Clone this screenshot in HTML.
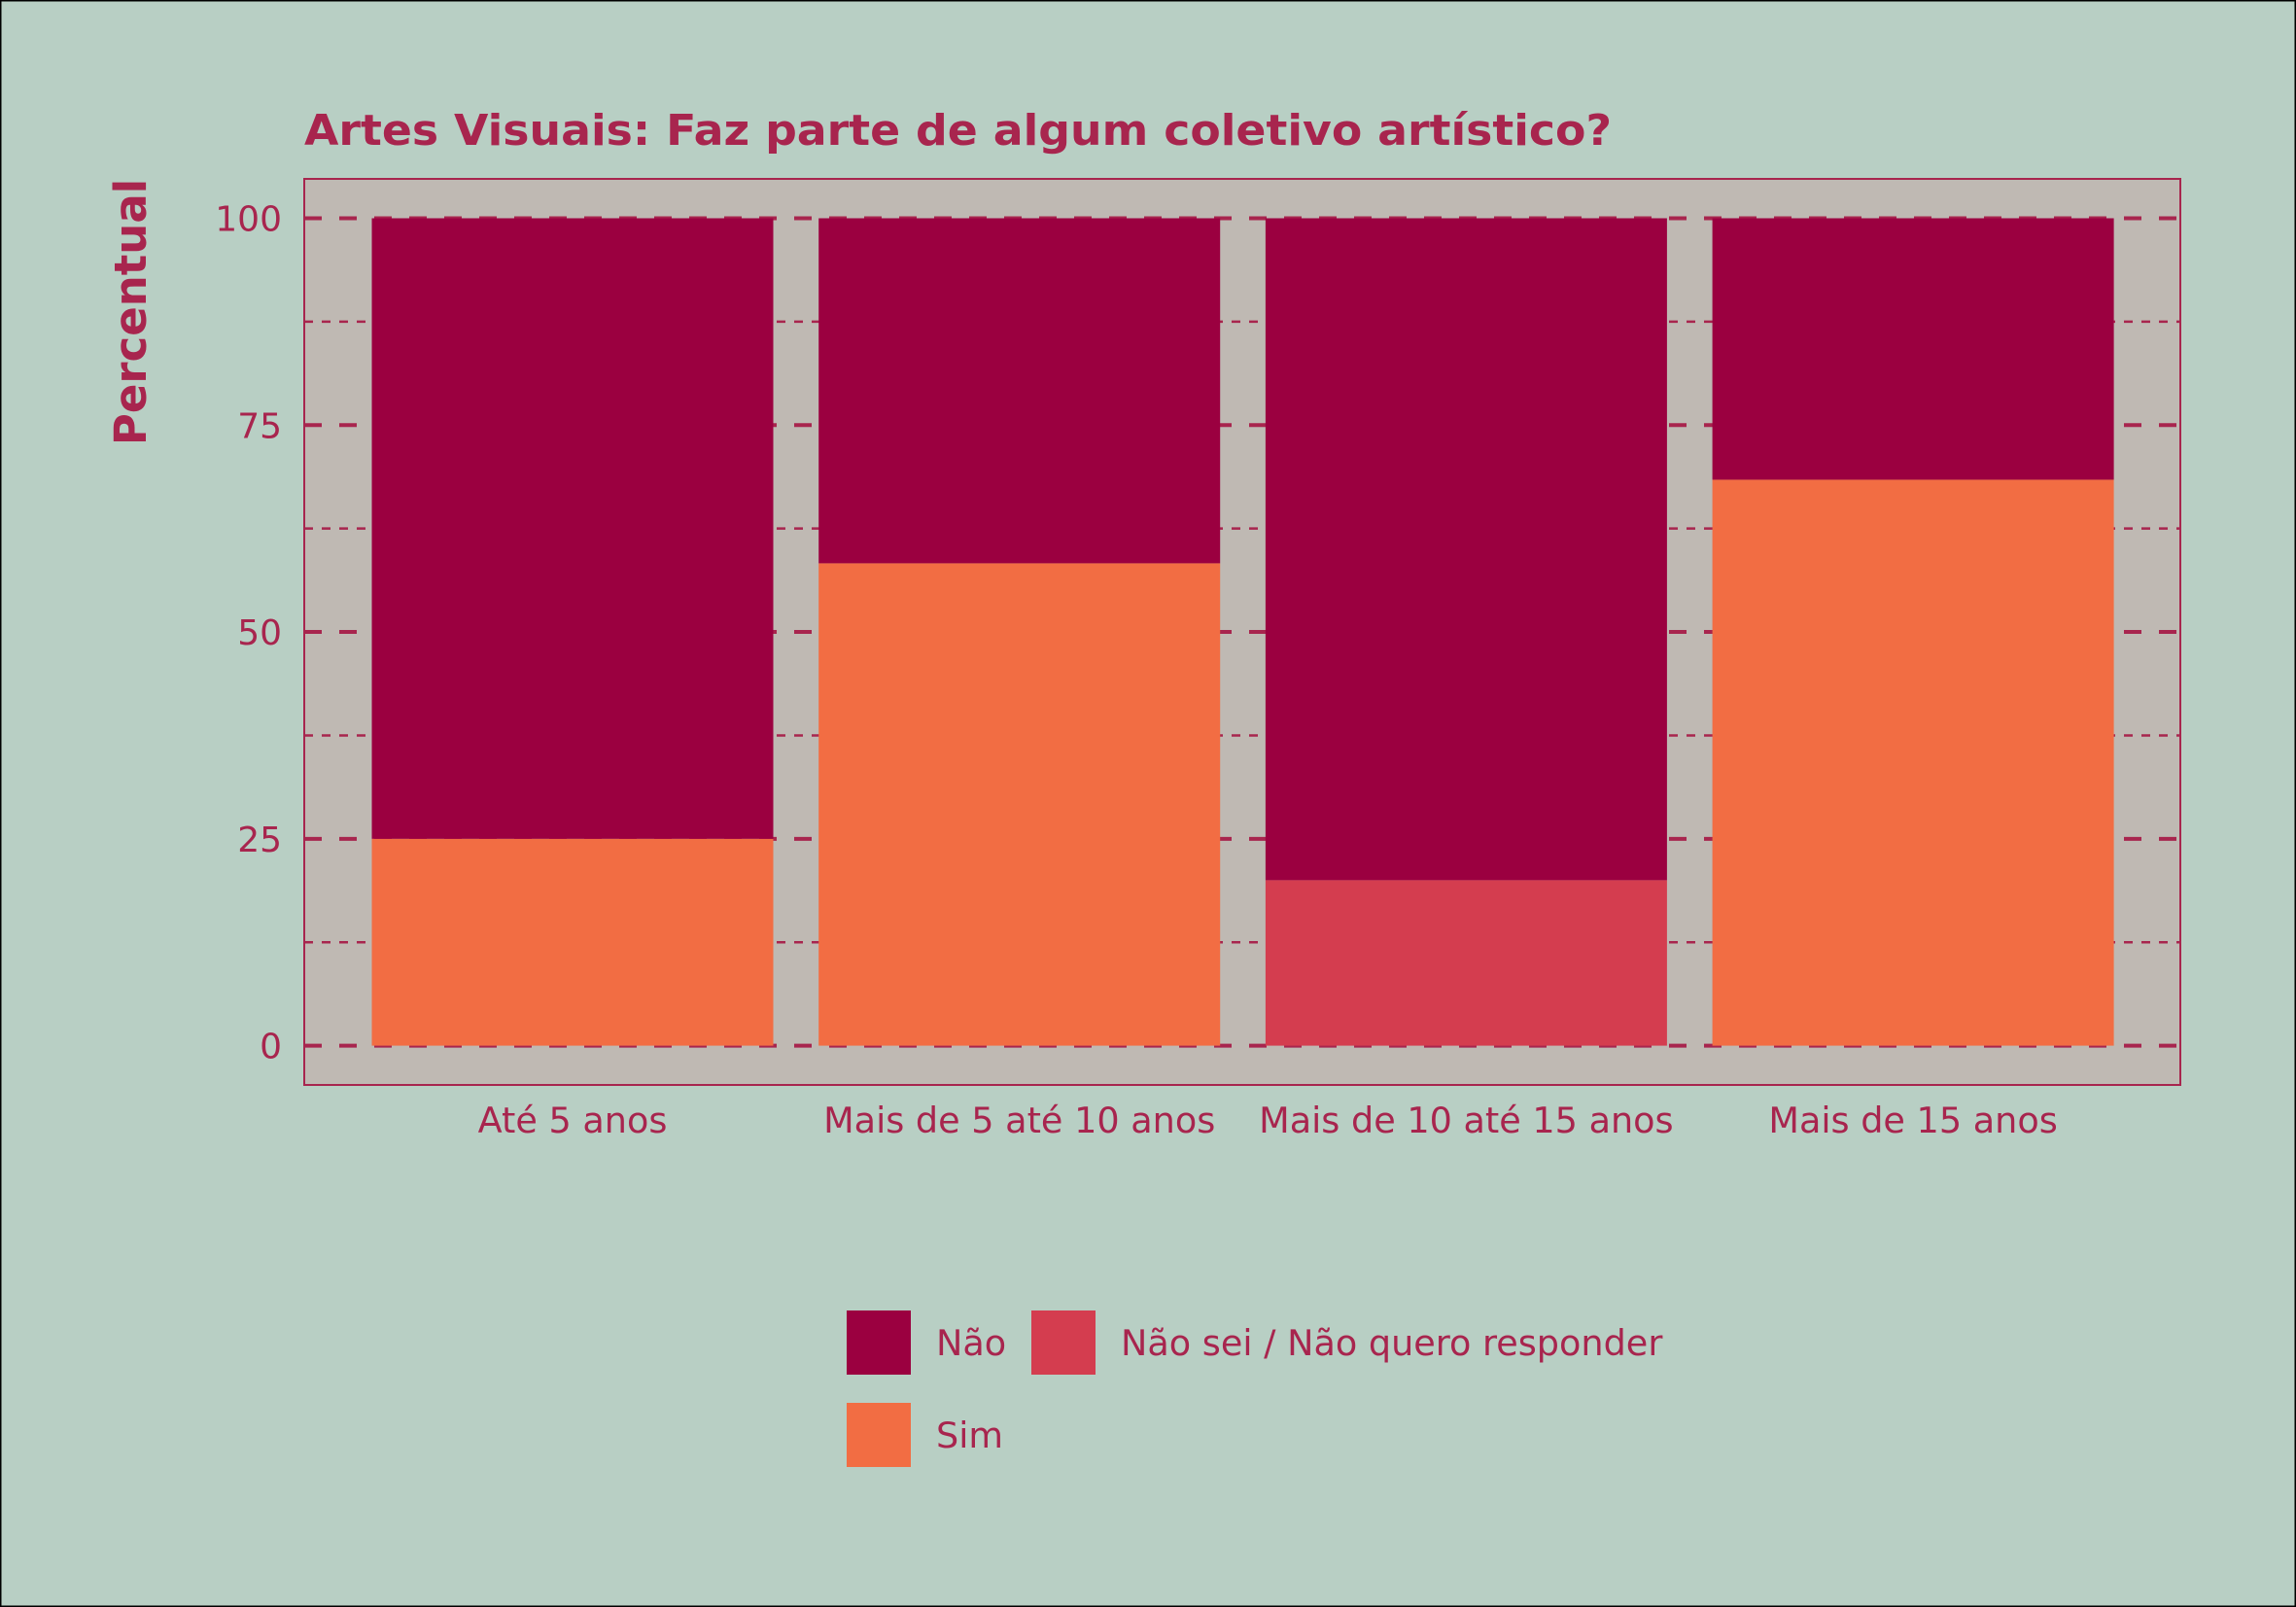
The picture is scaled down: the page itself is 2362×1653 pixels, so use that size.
<!DOCTYPE html>
<html><head><meta charset="utf-8"><style>
html,body{margin:0;padding:0;background:#B8CFC4;}
svg{display:block;font-family:"DejaVu Sans","Liberation Sans",sans-serif;}
</style></head><body>
<svg id="chart" width="2362" height="1653" viewBox="0 0 2362 1653">
<rect x="0.5" y="0.5" width="2361" height="1652" fill="#B8CFC4" stroke="#000" stroke-width="2"/>
<text x="313" y="149" font-size="44" font-weight="bold" fill="#A8254E" textLength="1345" lengthAdjust="spacingAndGlyphs">Artes Visuais: Faz parte de algum coletivo artístico?</text>
<rect x="313" y="184" width="1930" height="932" fill="#BFB9B3"/>
<g id="grid"></g>
<g id="bars"></g>
<rect x="313" y="184" width="1930" height="932" fill="none" stroke="#A8254E" stroke-width="2"/>
<g id="yticks"></g>
<g id="xlabels"></g>
<text transform="translate(150,321) rotate(-90)" text-anchor="middle" font-size="45" font-weight="bold" fill="#A8254E">Percentual</text>
<g id="legend"></g>
</svg>
<script>
const categories = ["Até 5 anos","Mais de 5 até 10 anos","Mais de 10 até 15 anos","Mais de 15 anos"];
const simValues = [25, 58.3, 0, 68.4];
const nsValues = [0, 0, 20, 0];
const naoValues = [75, 41.7, 80, 31.6];
const yTicks = [0, 25, 50, 75, 100];
const yMinor = [12.5, 37.5, 62.5, 87.5];

const NS='http://www.w3.org/2000/svg';
const col={sim:'#F26D43',ns:'#D43D4F',nao:'#9B0040',txt:'#A8254E'};
function y(v){return 1075.6 - v*(1075.6-224.5)/100;}
function xc(i){return 589 + i*459.7;}
const bw=413;
function mk(tag,attrs,parent){const e=document.createElementNS(NS,tag);for(const k in attrs)e.setAttribute(k,attrs[k]);parent.appendChild(e);return e;}
const grid=document.getElementById('grid');
yMinor.forEach(v=>{
  const l=mk('line',{x1:313,x2:2243,y1:y(v),y2:y(v),stroke:col.txt,'stroke-width':2.5,'stroke-dasharray':'9,9'},grid);
  
  
});
yTicks.forEach(v=>{
  const l=mk('line',{x1:313,x2:2243,y1:y(v),y2:y(v),stroke:col.txt,'stroke-width':4,'stroke-dasharray':'18,18'},grid);
  
  
});
const bars=document.getElementById('bars');
categories.forEach((c,i)=>{
  let base=0;
  [[simValues[i],col.sim,'sim'],[nsValues[i],col.ns,'nao-sei'],[naoValues[i],col.nao,'nao']].forEach(([v,f,n])=>{
    if(v<=0)return;
    const r=mk('rect',{x:xc(i)-bw/2,y:y(base+v),width:bw,height:y(base)-y(base+v),fill:f},bars);
    
    
    base+=v;
  });
});
const yt=document.getElementById('yticks');
yTicks.forEach(v=>{
  const t=mk('text',{x:290,y:y(v)+13,'text-anchor':'end','font-size':36,fill:col.txt},yt);
  t.textContent=v;
  
  
});
const xl=document.getElementById('xlabels');
categories.forEach((c,i)=>{
  const t=mk('text',{x:xc(i),y:1165,'text-anchor':'middle','font-size':36.6,fill:col.txt},xl);
  t.textContent=c;
  
  
});
const lg=document.getElementById('legend');
[[871,1348,col.nao,'Não',963],[1061,1348,col.ns,'Não sei / Não quero responder',1153],[871,1443,col.sim,'Sim',963]].forEach(([x,yy,f,lab,tx])=>{
  const r=mk('rect',{x:x,y:yy,width:66,height:66,fill:f},lg);
  
  
  const t=mk('text',{x:tx,y:yy+46,'font-size':36.6,fill:col.txt},lg);
  t.textContent=lab;
  
  
});
</script>
</body></html>
